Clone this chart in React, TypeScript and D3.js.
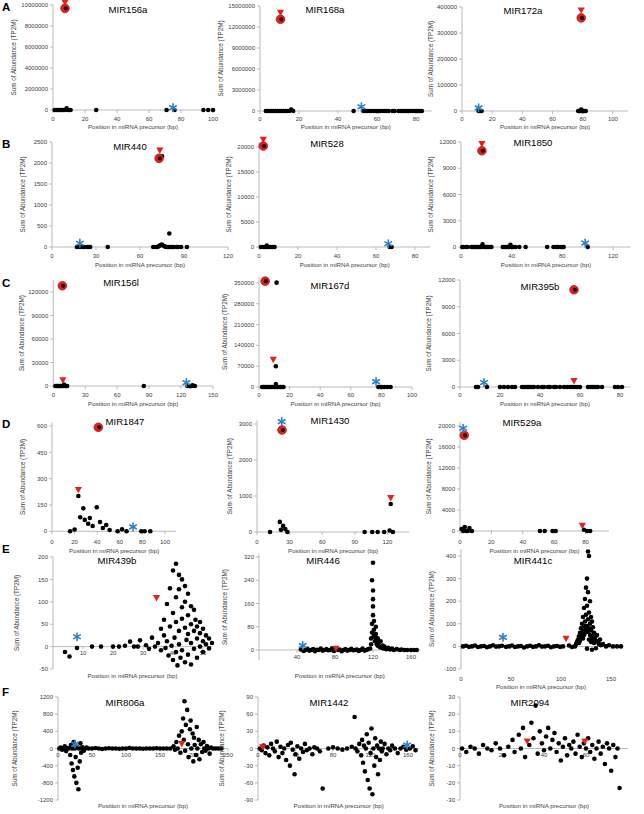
import React from 'react';
import * as d3 from 'd3';

type Pt = [number, number];

// ---------------- DATA ----------------
// Row A
const A1_black: Pt[] = [[1,0],[2,0],[3,0],[4,0],[5,0],[6,0],[7,0],[8.5,160000],[9,0],[10,0],[11,0],[27,0],[71,0],[76,0],[94,0],[97,0],[100,0]];
const A1_circle: Pt[] = [[7.5, 9680000]];
const A1_tri: Pt[] = [[7.5, 10200000]];
const A1_star: Pt[] = [[75, 220000]];

const A2_black: Pt[] = [[3,0],[4,0],[5,0],[6,0],[7,0],[8,0],[9,0],[10,0],[11,0],[12,0],[13,0],[14,0],[15,0],[16,200000],[17,0],[48,0],[53,0],[54,0],[55,0],[56,0],[57,0],[58,0],[59,0],[60,0],[61,0],[62,0],[63,0],[64,0],[65,0],[66,0],[68,0],[69,0],[71,0],[72,0],[73,0],[74,0],[75,0],[76,0],[77,0],[78,0],[79,0],[80,0],[81,0],[82,0],[83,0]];
const A2_circle: Pt[] = [[10.5, 13100000]];
const A2_tri: Pt[] = [[10.5, 14000000]];
const A2_star: Pt[] = [[52, 600000]];

const A3_black: Pt[] = [[11,0],[12,0],[13,0],[77,0],[77.5,0],[78,0],[78.5,0],[79,6000],[79.5,0],[80,0],[80.5,0],[81,0],[82,0]];
const A3_circle: Pt[] = [[79, 358000]];
const A3_tri: Pt[] = [[79, 386000]];
const A3_star: Pt[] = [[11, 12000]];

// Row B
const B1_black: Pt[] = [[17,0],[19,0],[21,0],[22,0],[24,0],[25,0],[26,0],[38,0],[69,0],[71,0],[72,0],[73,25],[74,45],[75,60],[76,30],[77,10],[78,0],[79,0],[80,320],[80,0],[81,0],[82,0],[83,0],[85,0],[86,0],[88,0],[92,0],[75,2160]];
const B1_circle: Pt[] = [[73, 2110]];
const B1_tri: Pt[] = [[73.5, 2290]];
const B1_star: Pt[] = [[19, 90]];

const B2_black: Pt[] = [[1,0],[2,0],[3,0],[3.5,0],[4,300],[4.5,0],[5,0],[6,0],[7,0],[8,0],[67,0],[68,0]];
const B2_circle: Pt[] = [[2.2, 20200]];
const B2_tri: Pt[] = [[2.2, 21400]];
const B2_star: Pt[] = [[66.3, 650]];

const B3_black: Pt[] = [[1,0],[2,0],[4,0],[5,0],[8,0],[9,0],[10,0],[11,0],[12,0],[13,0],[14,0],[15,0],[16,0],[17,300],[18,0],[19,0],[20,0],[21,0],[22,0],[23,0],[24,0],[33,0],[34,0],[35,0],[36,0],[37,0],[38,0],[39,250],[40,0],[41,0],[43,0],[46,0],[51,0],[68,0],[73,0],[75,0],[76,0],[77,0],[79,0],[81,0],[100,0]];
const B3_circle: Pt[] = [[16.5, 11000]];
const B3_tri: Pt[] = [[16.5, 11750]];
const B3_star: Pt[] = [[98, 450]];

// Row C
const C1_black: Pt[] = [[2,0],[3,0],[4,0],[5,0],[6,0],[7,0],[8,0],[9,0],[10,1800],[11,0],[12,0],[13,0],[85,0],[126,0],[127,0],[128,0],[129,0],[130,0],[131,800],[133,0]];
const C1_circle: Pt[] = [[8.5, 128000]];
const C1_tri: Pt[] = [[9, 7000]];
const C1_star: Pt[] = [[125, 4200]];

const C2_black: Pt[] = [[2,0],[3,0],[4,0],[5,0],[6,0],[7,0],[8,0],[9,0],[10,0],[11,10000],[11,0],[12,0],[13,0],[14,0],[15,0],[16,0],[11,70000],[11.5,351000],[78,0],[79,0],[80,0],[81,0],[82,0],[84,0],[86,0]];
const C2_circle: Pt[] = [[4, 356000]];
const C2_tri: Pt[] = [[9.3, 91000]];
const C2_star: Pt[] = [[76.5, 18000]];

const C3_black: Pt[] = [[8,0],[9,0],[13.5,0],[20,0],[22,0],[24,0],[26,0],[27.5,0],[31,0],[32,0],[33,0],[34,0],[35,0],[36,0],[37,0],[39,0],[41,0],[42,0],[44,0],[45,0],[47,0],[48,0],[50,0],[52,0],[53.5,0],[55,0],[56,0],[57,0],[58,0],[59,0],[60,0],[64,0],[65,0],[66,0],[67,0],[68,0],[69,0],[71,0],[77.5,0],[79,0],[81,0]];
const C3_circle: Pt[] = [[57, 10900]];
const C3_tri: Pt[] = [[57, 650]];
const C3_star: Pt[] = [[12, 500]];

// Row D
const D1_black: Pt[] = [[16,0],[20,10],[23.3,201],[25,80],[27.7,131],[29,65],[32,43],[33.5,76],[36,30],[39.6,137],[42.5,53],[45,19],[48,36],[51,7],[58,0],[62,11],[66,0],[79,0],[82,0],[87,0]];
const D1_circle: Pt[] = [[41, 593]];
const D1_tri: Pt[] = [[23.3, 235]];
const D1_star: Pt[] = [[71.7, 25]];

const D2_black: Pt[] = [[12,0],[21,280],[22,60],[24,170],[26,80],[28,0],[99,0],[106,0],[111,0],[117,0],[122,40],[123,778],[125,0]];
const D2_circle: Pt[] = [[23, 2833]];
const D2_tri: Pt[] = [[123, 936]];
const D2_star: Pt[] = [[22.7, 3064]];

const D3_black: Pt[] = [[1,380],[2,0],[3,760],[4,0],[5,0],[6,570],[7.6,0],[51,0],[54,0],[59,0],[61,0],[79,250],[81,0],[83,0]];
const D3_circle: Pt[] = [[2.7, 18230]];
const D3_tri: Pt[] = [[78, 950]];
const D3_star: Pt[] = [[2, 19560]];

// Row E
const E1_black: Pt[] = [[4,-12],[5.5,-22],[8,-3],[13,0],[16,0],[20,0],[22,0],[24,2],[25.7,11],[27,0],[28.3,0],[29,14],[31,3],[32,-5],[33,20],[34,0],[35,8],[36,40],[36,-8],[37,25],[37,60],[37.5,-3],[38,95],[38,12],[38.5,-20],[39,130],[39,45],[39.5,2],[40,170],[40,75],[40,-30],[40.5,20],[41,185],[41,110],[41,55],[41,-12],[41.5,-42],[42,160],[42,128],[42,35],[42,5],[42.5,-25],[43,150],[43,88],[43,62],[43,-8],[44,135],[44,100],[44,42],[44,-35],[44.5,15],[45,118],[45,70],[45,28],[45,-18],[46,90],[46,50],[46,8],[46,-40],[47,82],[47,35],[47,-5],[47.5,60],[48,45],[48,18],[48,-25],[49,55],[49,30],[49,0],[50,40],[50,12],[50,-12],[51,25],[51,5],[52,18],[52,-4],[53,8]];
const E1_circle: Pt[] = [];
const E1_tri: Pt[] = [[34.5, 108]];
const E1_star: Pt[] = [[8, 22]];

const E2_black: Pt[] = [[44,2],[47,-3],[49,0],[51,4],[53,-2],[55,0],[57,3],[59,-4],[61,1],[63,0],[65,5],[67,-2],[69,0],[71,3],[73,-1],[75,0],[77,6],[79,-3],[83,0],[85,2],[87,-4],[89,0],[91,3],[93,-2],[95,0],[97,4],[99,-1],[101,0],[103,2],[105,-3],[107,0],[109,5],[111,-2],[113,0],[115,3],[117,5],[118,20],[118,40],[119,60],[119,90],[120,120],[120,150],[120,175],[120,205],[119,240],[120,300],[121,100],[121,70],[121,50],[122,45],[122,30],[123,80],[123,55],[124,35],[124,20],[125,40],[125,15],[126,25],[127,10],[128,30],[129,8],[130,15],[131,5],[132,12],[134,3],[136,8],[138,2],[140,5],[142,0],[145,3],[148,0],[150,2],[153,0],[156,0],[160,0],[163,0],[166,0]];
const E2_circle: Pt[] = [];
const E2_tri: Pt[] = [[81, 4]];
const E2_star: Pt[] = [[46, 15]];

const E3_black: Pt[] = [[2,0],[5,3],[8,-2],[11,0],[14,4],[17,-3],[20,0],[23,2],[26,-4],[29,0],[32,5],[35,-1],[38,0],[41,3],[45,-2],[48,0],[51,4],[54,-3],[57,0],[60,2],[63,-5],[66,0],[69,3],[72,-2],[75,0],[78,5],[81,-1],[84,0],[87,3],[90,-4],[93,0],[96,2],[99,-2],[102,0],[108,4],[111,-3],[114,0],[115,10],[116,20],[117,30],[118,15],[118,45],[119,60],[119,25],[120,80],[120,40],[121,100],[121,55],[122,130],[122,70],[122,35],[123,170],[123,90],[123,50],[124,210],[124,110],[124,60],[125,260],[125,140],[125,75],[126,300],[126,180],[126,90],[126,-10],[127,420],[127,240],[127,120],[127,65],[128,400],[128,150],[128,80],[128,30],[129,200],[129,100],[129,50],[130,130],[130,70],[130,20],[131,110],[131,45],[131,-15],[132,85],[132,30],[133,60],[133,15],[134,40],[135,25],[135,-8],[136,50],[137,20],[138,10],[139,30],[140,5],[142,10],[145,0],[148,5],[152,0],[156,0],[160,0]];
const E3_circle: Pt[] = [];
const E3_tri: Pt[] = [[105, 33]];
const E3_star: Pt[] = [[42, 40]];

// Row F
const F1_black: Pt[] = [[2,0],[4,20],[6,-30],[8,0],[10,50],[12,-60],[14,10],[16,0],[18,-150],[19,80],[20,-350],[21,0],[22,-500],[23,150],[24,-650],[25,0],[26,-200],[27,-800],[28,40],[29,-450],[30,-950],[31,0],[32,-300],[33,120],[34,-100],[35,0],[36,30],[38,-50],[40,0],[42,20],[45,0],[50,0],[55,10],[60,0],[65,-10],[70,0],[75,5],[80,0],[85,0],[90,-5],[95,0],[100,0],[105,10],[110,0],[115,0],[120,0],[125,-5],[130,0],[135,0],[140,0],[145,5],[150,0],[155,0],[160,0],[165,0],[170,50],[172,-30],[174,150],[176,0],[178,300],[180,-100],[182,400],[184,700],[185,200],[186,1100],[187,-50],[188,550],[190,900],[191,100],[192,-200],[194,450],[195,650],[196,0],[198,350],[199,-300],[200,250],[201,80],[203,-150],[204,500],[205,0],[207,200],[208,-250],[210,100],[212,-80],[214,150],[215,0],[217,-50],[219,60],[221,0],[223,-120],[225,20],[228,0],[232,0],[236,0],[240,0]];
const F1_circle: Pt[] = [];
const F1_tri: Pt[] = [[182, 100]];
const F1_star: Pt[] = [[25, 100]];

const F2_black: Pt[] = [[2,0],[4,-3],[6,5],[8,-8],[10,2],[12,-12],[14,8],[16,0],[18,-5],[20,12],[22,-15],[24,3],[26,-8],[28,0],[30,-20],[32,6],[34,-30],[35,10],[37,-2],[39,-45],[40,-10],[42,4],[44,-18],[46,0],[48,-6],[50,8],[52,-3],[55,0],[58,-10],[60,2],[63,0],[66,-5],[69,-70],[75,0],[80,2],[85,0],[90,-2],[95,0],[100,3],[103,55],[104,0],[106,-5],[108,8],[110,-12],[111,15],[112,-25],[113,5],[114,-40],[115,0],[116,25],[117,-55],[118,10],[119,-70],[120,-8],[121,35],[122,-80],[123,0],[124,-30],[125,18],[126,-15],[127,5],[128,-45],[129,0],[130,-20],[131,12],[132,-5],[133,0],[135,8],[137,-10],[139,0],[141,-3],[143,5],[146,0],[149,-8],[152,0],[155,3],[158,-2],[162,0],[165,4],[168,-3]];
const F2_circle: Pt[] = [];
const F2_tri: Pt[] = [[5, 2]];
const F2_star: Pt[] = [[159, 6]];

const F3_black: Pt[] = [[1,0],[3,-2],[5,1],[7,0],[9,-3],[11,2],[13,0],[15,-1],[17,3],[19,0],[21,-4],[23,1],[25,5],[26,-2],[28,8],[29,0],[30,12],[31,-5],[33,2],[34,15],[35,6],[36,25],[37,-3],[38,10],[39,3],[40,-1],[41,7],[42,12],[43,0],[44,5],[45,9],[46,-2],[47,3],[48,-7],[49,1],[50,6],[51,-4],[52,2],[53,0],[54,4],[55,-3],[56,8],[57,1],[58,-5],[59,3],[60,0],[61,6],[62,-2],[63,2],[64,-6],[65,0],[66,4],[67,-3],[68,1],[69,-9],[70,3],[71,0],[72,-13],[73,2],[74,-5],[75,0],[76,-23]];
const F3_circle: Pt[] = [];
const F3_tri: Pt[] = [[32, 4], [59.5, 4]];
const F3_star: Pt[] = [];

// Tick values
const A1_yTicks = [0, 2000000, 4000000, 6000000, 8000000, 10000000];
const A2_yTicks = [0, 3000000, 6000000, 9000000, 12000000, 15000000];
const A3_yTicks = [0, 100000, 200000, 300000, 400000];
const B1_yTicks = [0, 500, 1000, 1500, 2000, 2500];
const B2_yTicks = [0, 5000, 10000, 15000, 20000];
const B3_yTicks = [0, 3000, 6000, 9000, 12000];
const C1_yTicks = [0, 30000, 60000, 90000, 120000];
const C2_yTicks = [0, 70000, 140000, 210000, 280000, 350000];
const C3_yTicks = [0, 3000, 6000, 9000, 12000];
const D1_yTicks = [0, 150, 300, 450, 600];
const D2_yTicks = [0, 1000, 2000, 3000];
const D3_yTicks = [0, 4000, 8000, 12000, 16000, 20000];
const E1_yTicks = [-50, 0, 50, 100, 150, 200];
const E2_yTicks = [0, 80, 160, 240, 320];
const E3_yTicks = [-100, 0, 100, 200, 300, 400];
const F1_yTicks = [-1200, -800, -400, 0, 400, 800, 1200];
const F2_yTicks = [-90, -60, -30, 0, 30, 60, 90];
const F3_yTicks = [-30, -20, -10, 0, 10, 20, 30];

const X_0_100_20 = [0, 20, 40, 60, 80, 100];
const X_0_80_20 = [0, 20, 40, 60, 80];
const X_0_120_30 = [0, 30, 60, 90, 120];
const X_0_120_40 = [0, 40, 80, 120];
const X_0_150_30 = [0, 30, 60, 90, 120, 150];
const E1_xTicks = [10, 20, 30, 40, 50];
const E2_xTicks = [40, 80, 120, 160];
const E3_xTicks = [0, 50, 100, 150];
const F1_xTicks = [0, 50, 100, 150, 200, 250];
const F2_xTicks = [0, 40, 80, 120, 160];
const F3_xTicks = [0, 20, 40, 60];

const TITLES = ['MIR156a','MIR168a','MIR172a','MIR440','MIR528','MIR1850','MIR156l','MIR167d','MIR395b','MIR1847','MIR1430','MIR529a','MIR439b','MIR446','MIR441c','MIR806a','MIR1442','MIR2094'];
const LETTERS = ['A','B','C','D','E','F'];

// ---------------- LAYOUT ----------------
interface Cfg {
  title: string; tx: number; ty: number;
  xDom: [number, number]; xPx: [number, number];
  yDom: [number, number]; yPx: [number, number];
  xTicks: number[]; yTicks: number[];
  xLab: number | null; xTitleY: number; yTitleX: number;
  black: Pt[]; circle: Pt[]; tri: Pt[]; star: Pt[];
}

const PANELS: Cfg[] = [
  { title: TITLES[0], tx: 128, ty: 13, xDom: [0,100], xPx: [53,213], yDom: [0,10000000], yPx: [110,5], xTicks: X_0_100_20, yTicks: A1_yTicks, xLab: 121, xTitleY: 129, yTitleX: 14, black: A1_black, circle: A1_circle, tri: A1_tri, star: A1_star },
  { title: TITLES[1], tx: 325, ty: 13, xDom: [0,88], xPx: [260,431.6], yDom: [0,15000000], yPx: [111,6], xTicks: X_0_80_20, yTicks: A2_yTicks, xLab: 121, xTitleY: 129, yTitleX: 221, black: A2_black, circle: A2_circle, tri: A2_tri, star: A2_star },
  { title: TITLES[2], tx: 523, ty: 14, xDom: [0,110], xPx: [462,628], yDom: [0,400000], yPx: [111,7], xTicks: X_0_100_20, yTicks: A3_yTicks, xLab: 121, xTitleY: 129, yTitleX: 431, black: A3_black, circle: A3_circle, tri: A3_tri, star: A3_star },

  { title: TITLES[3], tx: 130, ty: 150, xDom: [0,120], xPx: [52,228], yDom: [0,2500], yPx: [247,142], xTicks: X_0_120_30, yTicks: B1_yTicks, xLab: 258, xTitleY: 267, yTitleX: 23, black: B1_black, circle: B1_circle, tri: B1_tri, star: B1_star },
  { title: TITLES[4], tx: 327, ty: 147, xDom: [0,88], xPx: [259,430.6], yDom: [0,21000], yPx: [247,142], xTicks: X_0_80_20, yTicks: B2_yTicks, xLab: 258, xTitleY: 267, yTitleX: 229, black: B2_black, circle: B2_circle, tri: B2_tri, star: B2_star },
  { title: TITLES[5], tx: 533, ty: 146, xDom: [0,134], xPx: [461,630.8], yDom: [0,12000], yPx: [247,142], xTicks: X_0_120_40, yTicks: B3_yTicks, xLab: 258, xTitleY: 267, yTitleX: 431, black: B3_black, circle: B3_circle, tri: B3_tri, star: B3_star },

  { title: TITLES[6], tx: 121, ty: 286, xDom: [0,150], xPx: [53.3,213], yDom: [0,135000], yPx: [386,280.3], xTicks: X_0_150_30, yTicks: C1_yTicks, xLab: 397, xTitleY: 406, yTitleX: 22, black: C1_black, circle: C1_circle, tri: C1_tri, star: C1_star },
  { title: TITLES[7], tx: 330, ty: 289, xDom: [0,100], xPx: [259,412], yDom: [0,370000], yPx: [387,277], xTicks: X_0_100_20, yTicks: C2_yTicks, xLab: 397, xTitleY: 406, yTitleX: 225, black: C2_black, circle: C2_circle, tri: C2_tri, star: C2_star },
  { title: TITLES[8], tx: 540, ty: 290, xDom: [0,85], xPx: [460,630], yDom: [0,12000], yPx: [387,280], xTicks: X_0_80_20, yTicks: C3_yTicks, xLab: 397, xTitleY: 406, yTitleX: 429, black: C3_black, circle: C3_circle, tri: C3_tri, star: C3_star },

  { title: TITLES[9], tx: 125, ty: 425, xDom: [0,110], xPx: [52,176.3], yDom: [0,620], yPx: [531.3,422.6], xTicks: X_0_100_20, yTicks: D1_yTicks, xLab: 544, xTitleY: 553, yTitleX: 23, black: D1_black, circle: D1_circle, tri: D1_tri, star: D1_star },
  { title: TITLES[10], tx: 330, ty: 424, xDom: [0,140], xPx: [257,409.2], yDom: [0,3100], yPx: [532,420.4], xTicks: X_0_120_30, yTicks: D2_yTicks, xLab: 544, xTitleY: 553, yTitleX: 230, black: D2_black, circle: D2_circle, tri: D2_tri, star: D2_star },
  { title: TITLES[11], tx: 522, ty: 426, xDom: [0,95], xPx: [460,609], yDom: [0,20800], yPx: [531,421.8], xTicks: X_0_80_20, yTicks: D3_yTicks, xLab: 544, xTitleY: 553, yTitleX: 429, black: D3_black, circle: D3_circle, tri: D3_tri, star: D3_star },

  { title: TITLES[12], tx: 117, ty: 564, xDom: [0,53], xPx: [53,212], yDom: [-50,200], yPx: [669,557], xTicks: E1_xTicks, yTicks: E1_yTicks, xLab: null, xTitleY: 678, yTitleX: 17, black: E1_black, circle: E1_circle, tri: E1_tri, star: E1_star },
  { title: TITLES[13], tx: 323, ty: 564, xDom: [0,170], xPx: [259,420.5], yDom: [-35,330], yPx: [660.2,554.1], xTicks: E2_xTicks, yTicks: E2_yTicks, xLab: null, xTitleY: 678, yTitleX: 225, black: E2_black, circle: E2_circle, tri: E2_tri, star: E2_star },
  { title: TITLES[14], tx: 533, ty: 564, xDom: [0,160], xPx: [461,621], yDom: [-100,430], yPx: [669,549.2], xTicks: E3_xTicks, yTicks: E3_yTicks, xLab: 681, xTitleY: 689, yTitleX: 432, black: E3_black, circle: E3_circle, tri: E3_tri, star: E3_star },

  { title: TITLES[15], tx: 125, ty: 706, xDom: [0,250], xPx: [58,228], yDom: [-1200,1200], yPx: [800,697], xTicks: F1_xTicks, yTicks: F1_yTicks, xLab: null, xTitleY: 808, yTitleX: 15, black: F1_black, circle: F1_circle, tri: F1_tri, star: F1_star },
  { title: TITLES[16], tx: 329, ty: 706, xDom: [0,172], xPx: [258,419.3], yDom: [-90,90], yPx: [800,697], xTicks: F2_xTicks, yTicks: F2_yTicks, xLab: null, xTitleY: 808, yTitleX: 222, black: F2_black, circle: F2_circle, tri: F2_tri, star: F2_star },
  { title: TITLES[17], tx: 530, ty: 706, xDom: [0,80], xPx: [460,628], yDom: [-30,30], yPx: [800,697], xTicks: F3_xTicks, yTicks: F3_yTicks, xLab: null, xTitleY: 808, yTitleX: 432, black: F3_black, circle: F3_circle, tri: F3_tri, star: F3_star },
];

const LETTER_Y = [11, 148, 287, 428, 553, 696];

const FONT = '"Liberation Sans", Arial, Helvetica, sans-serif';
const AXIS = '#a9a9a9';
const LABEL = '#404040';
const RED = '#e2231a';
const BLUE = '#2c7fc2';

function Star({ x, y }: { x: number; y: number }) {
  const r = 3.8;
  const angles = [90, 30, -30];
  return (
    <g stroke={BLUE} strokeWidth={1.6} strokeLinecap="round">
      {angles.map((a) => {
        const rad = (a * Math.PI) / 180;
        const dx = r * Math.cos(rad), dy = r * Math.sin(rad);
        return <line key={a} x1={x - dx} y1={y - dy} x2={x + dx} y2={y + dy} />;
      })}
    </g>
  );
}

function Panel({ c }: { c: Cfg }) {
  const x = d3.scaleLinear().domain(c.xDom).range(c.xPx);
  const y = d3.scaleLinear().domain(c.yDom).range(c.yPx);
  const ax = x(c.xDom[0]);
  const yZero = y(Math.max(0, c.yDom[0]));
  const xLabY = c.xLab ?? yZero + 8.5;
  const midX = (c.xPx[0] + c.xPx[1]) / 2;
  const midY = (c.yPx[0] + c.yPx[1]) / 2;
  const tri = (px: number, py: number) => `M${px - 3.6},${py - 3.2}L${px + 3.6},${py - 3.2}L${px},${py + 3.2}Z`;
  return (
    <g>
      <line x1={ax} x2={ax} y1={c.yPx[0]} y2={c.yPx[1]} stroke={AXIS} strokeWidth={0.8} />
      {c.yTicks.map((t) => (
        <g key={'y' + t}>
          <line x1={ax - 3} x2={ax} y1={y(t)} y2={y(t)} stroke={AXIS} strokeWidth={0.8} />
          <text x={ax - 5} y={y(t)} dy="0.35em" textAnchor="end" fontSize={6} fill={LABEL}>{String(t)}</text>
        </g>
      ))}
      <line x1={c.xPx[0]} x2={c.xPx[1]} y1={yZero} y2={yZero} stroke={AXIS} strokeWidth={0.8} />
      {c.xTicks.map((t) => (
        <g key={'x' + t}>
          <line x1={x(t)} x2={x(t)} y1={yZero} y2={yZero + 3} stroke={AXIS} strokeWidth={0.8} />
          <text x={x(t)} y={xLabY} textAnchor="middle" fontSize={6} fill={LABEL}>{String(t)}</text>
        </g>
      ))}
      <text x={midX} y={c.xTitleY} textAnchor="middle" fontSize={6.2} fill={LABEL}>Position in miRNA precursor (bp)</text>
      <text transform={`translate(${c.yTitleX},${midY}) rotate(-90)`} textAnchor="middle" dy="0.35em" fontSize={6.3} fill={LABEL}>Sum of Abundance (TP2M)</text>
      <text x={c.tx} y={c.ty} textAnchor="middle" fontSize={9.6} fill="#000">{c.title}</text>
      {c.black.map((d, i) => (
        <circle key={'b' + i} cx={x(d[0])} cy={y(d[1])} r={2.3} fill="#000" />
      ))}
      {c.circle.map((d, i) => (
        <g key={'c' + i}>
          <circle cx={x(d[0])} cy={y(d[1])} r={4.3} fill={RED} stroke="#b5121b" strokeWidth={0.8} />
          <circle cx={x(d[0]) + 0.8} cy={y(d[1])} r={2.1} fill="#1a0000" />
        </g>
      ))}
      {c.tri.map((d, i) => (
        <path key={'t' + i} d={tri(x(d[0]), y(d[1]))} fill={RED} />
      ))}
      {c.star.map((d, i) => (
        <Star key={'s' + i} x={x(d[0])} y={y(d[1])} />
      ))}
    </g>
  );
}

export default function App() {
  return (
    <svg width={644} height={814} style={{ position: 'absolute', left: 0, top: 0, background: '#fff' }} fontFamily={FONT}>
      <rect width={644} height={814} fill="#fff" />
      {LETTERS.map((l, i) => (
        <text key={l} x={2} y={LETTER_Y[i]} fontSize={11.5} fontWeight="bold" fill="#000">{l}</text>
      ))}
      {PANELS.map((c, i) => <Panel key={i} c={c} />)}
    </svg>
  );
}
